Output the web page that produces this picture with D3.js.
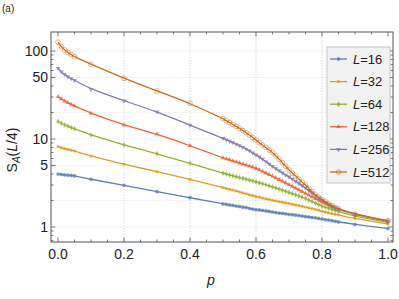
<!DOCTYPE html>
<html><head><meta charset="utf-8">
<script src="https://cdn.jsdelivr.net/npm/d3@7"></script>
<style>body{margin:0;background:#fff}svg{display:block;font-family:"Liberation Sans",Arial,sans-serif}</style>
</head><body><svg id="c" width="399" height="299"></svg>
<script>
const pValues = [0,0.01,0.02,0.03,0.04,0.05,0.1,0.2,0.3,0.4,
 0.5,0.51,0.52,0.53,0.54,0.55,0.56,0.57,0.58,0.59,0.6,0.61,0.62,0.63,0.64,0.65,0.66,0.67,0.68,0.69,
 0.7,0.71,0.72,0.73,0.74,0.75,0.76,0.77,0.78,0.79,0.8,0.81,0.82,0.83,0.84,0.85,0.9,1.0];
const seriesNames = ["L=16","L=32","L=64","L=128","L=256","L=512"];
const sL16 = [4.00,3.96,3.92,3.88,3.85,3.81,3.48,2.98,2.52,2.15,
 1.83,1.81,1.78,1.76,1.73,1.71,1.68,1.66,1.63,1.60,1.57,1.56,1.54,1.52,1.50,1.48,1.46,1.44,1.43,1.41,
 1.39,1.38,1.36,1.35,1.33,1.31,1.30,1.28,1.27,1.25,1.23,1.21,1.20,1.18,1.16,1.14,1.07,0.96];
const sL32 = [8.2,7.95,7.75,7.6,7.45,7.3,6.4,5.16,4.25,3.48,
 2.80,2.74,2.68,2.62,2.56,2.50,2.44,2.38,2.32,2.27,2.22,2.18,2.13,2.09,2.05,2.01,1.98,1.94,1.91,1.88,
 1.85,1.81,1.78,1.75,1.72,1.68,1.65,1.62,1.58,1.55,1.51,1.48,1.45,1.42,1.39,1.37,1.25,1.08];
const sL64 = [15.8,15.1,14.5,14.0,13.5,13.1,11.1,8.55,6.8,5.3,
 4.1,4.0,3.9,3.82,3.73,3.65,3.57,3.49,3.41,3.34,3.26,3.18,3.10,3.02,2.94,2.86,2.78,2.70,2.62,2.54,
 2.46,2.39,2.32,2.25,2.18,2.11,2.02,1.95,1.87,1.80,1.73,1.68,1.63,1.58,1.54,1.50,1.32,1.13];
const sL128 = [30.2,28.5,27.0,25.8,24.7,23.7,19.6,14.4,11.4,8.4,
 6.1,5.95,5.8,5.64,5.48,5.33,5.18,5.04,4.90,4.77,4.64,4.46,4.28,4.10,3.93,3.77,3.61,3.46,3.31,3.16,
 3.02,2.89,2.76,2.64,2.52,2.41,2.30,2.20,2.10,2.01,1.93,1.85,1.78,1.71,1.65,1.59,1.38,1.16];
const sL256 = [63.6,58,54,51,48.5,46.5,36.7,27.2,20.4,14.4,
 10.2,9.8,9.45,9.1,8.75,8.4,8.05,7.7,7.35,6.95,6.6,6.25,5.9,5.55,5.2,4.9,4.62,4.36,4.12,3.90,
 3.72,3.50,3.31,3.12,2.94,2.77,2.60,2.44,2.29,2.15,2.02,1.91,1.81,1.72,1.65,1.59,1.38,1.17];
const sL512 = [126,112,103,96,91,86,70.6,48.9,35.1,25.5,
 17.0,16.2,15.4,14.6,13.9,13.2,12.5,11.8,11.1,10.4,9.7,9.1,8.5,8.0,7.5,7.0,6.45,5.9,5.4,4.9,
 4.45,4.1,3.8,3.5,3.23,3.0,2.75,2.52,2.32,2.17,2.05,1.94,1.84,1.75,1.67,1.61,1.40,1.18];
const seriesValues = [sL16,sL32,sL64,sL128,sL256,sL512];
const colors = ["#5E81B5","#E19C24","#8FB032","#EB6235","#8778B3","#C56E1A"];
const xTickValues = [0,0.2,0.4,0.6,0.8,1.0];
const xTickLabels = ["0.0","0.2","0.4","0.6","0.8","1.0"];
const yTickValues = [1,5,10,50,100];
const yTickLabels = ["1","5","10","50","100"];
const yGridValues = [1,2,5,10,20,50,100];

const svg = d3.select("#c");
const L=51,R=393,T=32,B=242;
const x = d3.scaleLinear().domain([-0.0212,1.0152]).range([L,R]);
const y = d3.scaleLog().domain([0.675,164.4]).range([B,T]);
const frameCol="#555";

// grid
const g = svg.append("g");
g.selectAll(".gx").data(xTickValues.filter(v=>v>0&&v<1)).enter().append("line")
 .attr("x1",d=>x(d)).attr("x2",d=>x(d)).attr("y1",T).attr("y2",B)
 .attr("stroke","#c8c8c8").attr("stroke-width",0.8).attr("stroke-dasharray","1.2,1.6");
g.selectAll(".gy").data(yGridValues).enter().append("line")
 .attr("y1",d=>y(d)).attr("y2",d=>y(d)).attr("x1",L).attr("x2",R)
 .attr("stroke","#dcdcdc").attr("stroke-width",0.7).attr("stroke-dasharray","1.2,1.6");

// ticks
const xMinor = d3.range(0,1.0001,0.05).map(v=>+v.toFixed(2));
const yMinor = [];
[0.1,1,10,100].forEach(d=>{for(let k=1;k<10;k++){const v=d*k; if(v>=0.675&&v<=164.4) yMinor.push(v);}});
const tk = svg.append("g").attr("stroke",frameCol).attr("stroke-width",0.8);
xMinor.forEach(v=>{
  const major = xTickValues.some(t=>Math.abs(t-v)<1e-6);
  const len = major?4.5:2.5;
  tk.append("line").attr("x1",x(v)).attr("x2",x(v)).attr("y1",B).attr("y2",B-len);
  tk.append("line").attr("x1",x(v)).attr("x2",x(v)).attr("y1",T).attr("y2",T+len);
});
yMinor.forEach(v=>{
  const major = yTickValues.some(t=>Math.abs(t-v)<1e-6);
  const len = major?4.5:2.5;
  tk.append("line").attr("y1",y(v)).attr("y2",y(v)).attr("x1",L).attr("x2",L+len);
  tk.append("line").attr("y1",y(v)).attr("y2",y(v)).attr("x1",R).attr("x2",R-len);
});
svg.append("rect").attr("x",L).attr("y",T).attr("width",R-L).attr("height",B-T)
 .attr("fill","none").attr("stroke",frameCol).attr("stroke-width",1);

// tick labels
svg.selectAll(".xl").data(xTickValues).enter().append("text")
 .attr("x",d=>x(d)).attr("y",B+17).attr("text-anchor","middle")
 .attr("font-size",14).attr("fill","#222").text((d,i)=>xTickLabels[i]);
svg.selectAll(".yl").data(yTickValues).enter().append("text")
 .attr("x",L-3).attr("y",d=>y(d)+5).attr("text-anchor","end")
 .attr("font-size",14).attr("fill","#222").text((d,i)=>yTickLabels[i]);

// axis labels
svg.append("text").attr("x",211).attr("y",285).attr("font-size",14).attr("font-style","italic")
 .attr("text-anchor","middle").attr("fill","#222").text("p");
const yl = svg.append("text").attr("transform","translate(17,150) rotate(-90)")
 .attr("text-anchor","middle").attr("font-size",14).attr("fill","#222");
yl.append("tspan").text("S");
yl.append("tspan").attr("font-size",10).attr("font-style","italic").attr("dy",3).text("A");
yl.append("tspan").attr("dy",-3).text("(");
yl.append("tspan").attr("font-style","italic").text("L");
yl.append("tspan").text("/4)");
svg.append("text").attr("x",2).attr("y",12).attr("font-size",10).attr("fill","#222").text("(a)");

// markers
function marker(sel,i,s){
  const c=colors[i];
  if(i===0) return sel.append("circle").attr("r",2.2*s).attr("fill",c);
  if(i===1) return sel.append("rect").attr("x",-1.6*s).attr("y",-1.6*s).attr("width",3.2*s).attr("height",3.2*s).attr("fill",c);
  if(i===2) return sel.append("path").attr("d",d3.symbol(d3.symbolDiamond,13*s*s)()).attr("fill",c);
  if(i===3) return sel.append("path").attr("d",d3.symbol(d3.symbolTriangle,13*s*s)()).attr("fill",c);
  if(i===4) return sel.append("path").attr("d",d3.symbol(d3.symbolTriangle,13*s*s)()).attr("transform","rotate(180)").attr("fill",c);
  return sel.append("circle").attr("r",2.8*s).attr("fill","none").attr("stroke",c).attr("stroke-width",0.7);
}

const line = d3.line().x(d=>x(d[0])).y(d=>y(d[1])).curve(d3.curveBasis);
const plot = svg.append("g");
seriesValues.forEach((vals,i)=>{
  const pts = pValues.map((p,j)=>[p,vals[j]]);
  const mg = plot.append("g").attr("opacity",0.75);
  pts.forEach(d=>{
    const m = mg.append("g").attr("transform",`translate(${x(d[0])},${y(d[1])})`);
    marker(m,i,0.85);
  });
  plot.append("path").attr("d",line(pts)).attr("fill","none").attr("stroke",colors[i]).attr("stroke-width",1.3);
});

// legend
const lg = svg.append("g");
const lx=327, ly=47, lw=63, lh=136;
lg.append("rect").attr("x",lx).attr("y",ly).attr("width",lw).attr("height",lh)
 .attr("fill","#f2f2f2").attr("stroke","#c8c8c8").attr("stroke-width",1);
seriesNames.forEach((n,i)=>{
  const yy = ly+12+i*22.6;
  lg.append("line").attr("x1",lx+3).attr("x2",lx+20).attr("y1",yy).attr("y2",yy)
   .attr("stroke",colors[i]).attr("stroke-width",1.3);
  const m = lg.append("g").attr("transform",`translate(${lx+11.5},${yy})`);
  marker(m,i,0.8);
  const t = lg.append("text").attr("x",lx+26).attr("y",yy+4.5).attr("font-size",13).attr("fill","#222");
  t.append("tspan").attr("font-style","italic").text("L");
  t.append("tspan").text(n.slice(1));
});
</script></body></html>
